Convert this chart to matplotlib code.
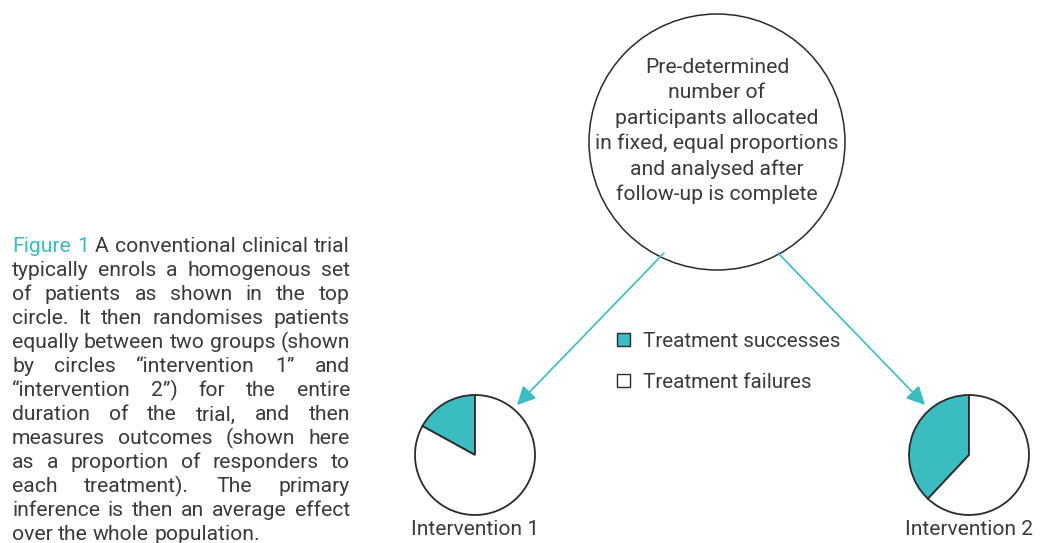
import matplotlib.pyplot as plt
from matplotlib.patches import Circle, Rectangle, FancyArrowPatch

W, H = 1050, 543
TEAL = '#3bbcc1'
INK = '#3a3a3a'
EDGE = '#2a2a2a'
FONT = 'Roboto'

# data
arms = ['Intervention 1', 'Intervention 2']
success_share = [0.17, 0.38]
legend_labels = ['Treatment successes', 'Treatment failures']
legend_colors = [TEAL, 'white']
top_lines = ['Pre-determined', 'number of', 'participants allocated',
             'in fixed, equal proportions', 'and analysed after',
             'follow-up is complete']
caption_lines = [
    'Figure 1 A conventional clinical trial',
    'typically enrols a homogenous set',
    'of patients as shown in the top',
    'circle. It then randomises patients',
    'equally between two groups (shown',
    'by circles \u201cintervention 1\u201d and',
    '\u201cintervention 2\u201d) for the entire',
    'duration of the trial, and then',
    'measures outcomes (shown here',
    'as a proportion of responders to',
    'each treatment). The primary',
    'inference is then an average effect',
    'over the whole population.',
]


def Y(y):
    # page pixels (top-down) to axes units (bottom-up)
    return H - y


fig = plt.figure(figsize=(10.5, 5.43), dpi=100)
ax = fig.add_axes([0, 0, 1, 1])
rend = fig.canvas.get_renderer()


def width_of(s, size):
    t = ax.text(0, 0, s, fontsize=size, family=FONT)
    w = t.get_window_extent(rend).width
    t.remove()
    return w


def fit(s, target):
    return 10 * target / width_of(s, 10)


# pies
pie_cx = [475, 969]
pie_cy = 455
pie_r = 60
for cx, share in zip(pie_cx, success_share):
    ax.pie([share, 1 - share], colors=legend_colors, startangle=90,
           counterclock=True, center=(cx, Y(pie_cy)), radius=pie_r,
           wedgeprops=dict(edgecolor=EDGE, linewidth=1.3))

ax.set_xlim(0, W)
ax.set_ylim(0, H)
ax.set_aspect('equal')
ax.axis('off')

lab_size = fit(arms[0], 128)
for cx, name in zip(pie_cx, arms):
    ax.text(cx, Y(535), name, ha='center', va='baseline', fontsize=lab_size,
            family=FONT, color=INK)

# top circle
ax.add_patch(Circle((717, Y(142)), 128, fill=False, ec=EDGE, lw=1.1))
top_size = fit(top_lines[3], 243)
for i, line in enumerate(top_lines):
    ax.text(717, Y(73 + i * 25.4), line, ha='center', va='baseline',
            fontsize=top_size, family=FONT, color=INK)

# arrows
for start, tip in [((664, 253), (517, 405)), ((778, 253), (925, 405))]:
    ax.add_patch(FancyArrowPatch((start[0], Y(start[1])), (tip[0], Y(tip[1])),
                                 arrowstyle='-|>,head_length=0.8,head_width=0.4',
                                 mutation_scale=14, color=TEAL, lw=1.2,
                                 shrinkA=0, shrinkB=0))

# legend
leg_size = fit(legend_labels[0], 198)
for i, (lab, col) in enumerate(zip(legend_labels, legend_colors)):
    y0 = 333 + i * 41
    ax.add_patch(Rectangle((617, Y(y0 + 13)), 13, 13, fc=col, ec=EDGE, lw=1.0))
    ax.text(643, Y(y0 + 14), lab, ha='left', va='baseline', fontsize=leg_size,
            family=FONT, color=INK)

# caption, justified
x0, x1 = 12, 350
cap_size = min(fit(l, x1 - x0) for l in caption_lines[:-1])
for i, line in enumerate(caption_lines):
    words = line.split(' ')
    ws = [width_of(w, cap_size) for w in words]
    if i < len(caption_lines) - 1:
        gap = (x1 - x0 - sum(ws)) / (len(words) - 1)
    else:
        gap = width_of('a b', cap_size) - width_of('ab', cap_size)
    x = x0
    for j, (w, wd) in enumerate(zip(words, ws)):
        col = TEAL if (i == 0 and j < 2) else INK
        ax.text(x, Y(252.5 + i * 24), w, ha='left', va='baseline',
                fontsize=cap_size, family=FONT, color=col)
        x += wd + gap

fig.savefig('out.png', dpi=100)
